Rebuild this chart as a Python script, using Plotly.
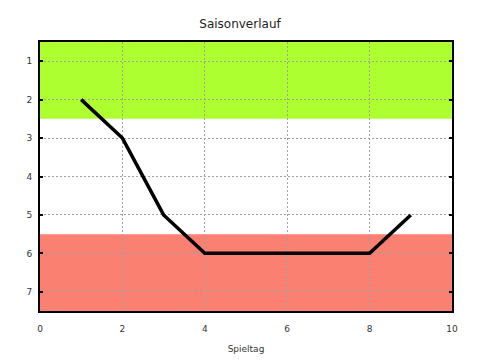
import plotly.graph_objects as go

spieltag = [1, 2, 3, 4, 5, 6, 7, 8, 9]
platz = [2, 3, 5, 6, 6, 6, 6, 6, 5]
x_ticks = [0, 2, 4, 6, 8, 10]
y_ticks = [1, 2, 3, 4, 5, 6, 7]
green_band = [0.5, 2.5]
red_band = [5.5, 7.5]

fig = go.Figure()
fig.add_trace(go.Scatter(x=spieltag, y=platz, mode="lines",
                         line=dict(color="black", width=3.5), showlegend=False,
                         hoverinfo="skip"))

fig.add_shape(type="rect", xref="x domain", yref="y", x0=0, x1=1,
              y0=green_band[0], y1=green_band[1], fillcolor="#adff2f",
              line=dict(width=0), layer="below")
fig.add_shape(type="rect", xref="x domain", yref="y", x0=0, x1=1,
              y0=red_band[0], y1=red_band[1], fillcolor="#fa8072",
              line=dict(width=0), layer="below")

font = dict(family="DejaVu Sans", size=9, color="#333")
axis_common = dict(showline=True, linecolor="black", linewidth=2, mirror=True,
                   showgrid=True, gridcolor="#a0a0a0", griddash="2px,2px", gridwidth=1,
                   zeroline=False, layer="above traces", tickfont=font, automargin=False)

fig.update_xaxes(range=[0, 10], tickvals=x_ticks, ticktext=[str(v) for v in x_ticks],
                 ticks="", title=dict(text="Spieltag", font=font, standoff=13),
                 ticklabelstandoff=8, **axis_common)
fig.update_yaxes(range=[7.5, 0.5], tickvals=y_ticks, ticktext=[str(v) for v in y_ticks],
                 ticks="inside", ticklen=3, tickcolor="black", tickwidth=2,
                 ticklabelstandoff=4, **axis_common)
fig.update_yaxes(mirror="allticks")

fig.update_layout(width=480, height=360, plot_bgcolor="white", paper_bgcolor="white",
                  margin=dict(l=40, r=28, t=42, b=49, autoexpand=False),
                  title=dict(text="Saisonverlauf", x=0.5, xanchor="center", y=0.935,
                             yanchor="middle", font=dict(family="DejaVu Sans", size=12, color="#222")),
                  showlegend=False)

fig.write_html("out.html", post_script="document.body.style.margin='0';",
               config={"displayModeBar": False})
